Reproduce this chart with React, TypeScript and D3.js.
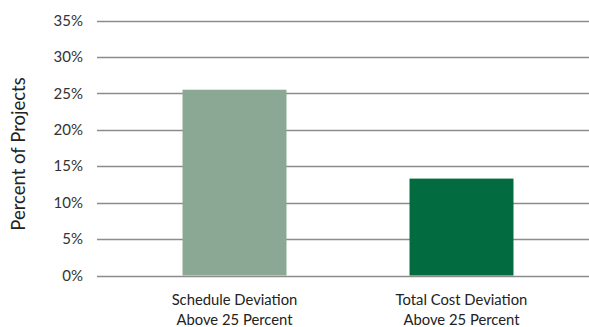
import React from "react";
import * as d3 from "d3";

const categories = ["Schedule Deviation|Above 25 Percent", "Total Cost Deviation|Above 25 Percent"];
const values = [0.255, 0.133];
const colors = ["#8aa893", "#036b40"];
const ticks = [0, 0.05, 0.1, 0.15, 0.2, 0.25, 0.3, 0.35];
const yTitle = "Percent of Projects";

export default function App() {
  const W = 589, H = 327;
  const y = d3.scaleLinear().domain([0, 0.35]).range([275.5, 20.5]);
  const x = d3.scaleBand<string>().domain(categories).range([121, 575]).paddingInner(0.542).paddingOuter(0.271);
  const font = "Lato, 'Open Sans', sans-serif";
  return (
    <svg width={W} height={H} style={{ position: "absolute", left: 0, top: 0 }}>
      <rect width={W} height={H} fill="#fff" />
      {ticks.map((t) => (
        <g key={t}>
          <line x1={97} x2={589} y1={Math.round(y(t)) + 0.5} y2={Math.round(y(t)) + 0.5} stroke="#8c8c8c" strokeWidth={1.3} />
          <text x={83} y={y(t)} dy="0.35em" textAnchor="end" fontFamily={font} fontSize={15} fill="#333">
            {d3.format(".0%")(t)}
          </text>
        </g>
      ))}
      {categories.map((c, i) => (
        <rect key={c} x={x(c)} width={x.bandwidth()} y={y(values[i])} height={y(0) - y(values[i])} fill={colors[i]} />
      ))}
      {categories.map((c) => (
        <text key={c} x={(x(c) as number) + x.bandwidth() / 2} textAnchor="middle" fontFamily={font} fontSize={14.8} fill="#222">
          {c.split("|").map((l, j) => (
            <tspan key={j} x={(x(c) as number) + x.bandwidth() / 2} y={305 + j * 19.5}>{l}</tspan>
          ))}
        </text>
      ))}
      <text transform="translate(25,154) rotate(-90)" textAnchor="middle" fontFamily={font} fontSize={18.5} fill="#222">
        {yTitle}
      </text>
    </svg>
  );
}
